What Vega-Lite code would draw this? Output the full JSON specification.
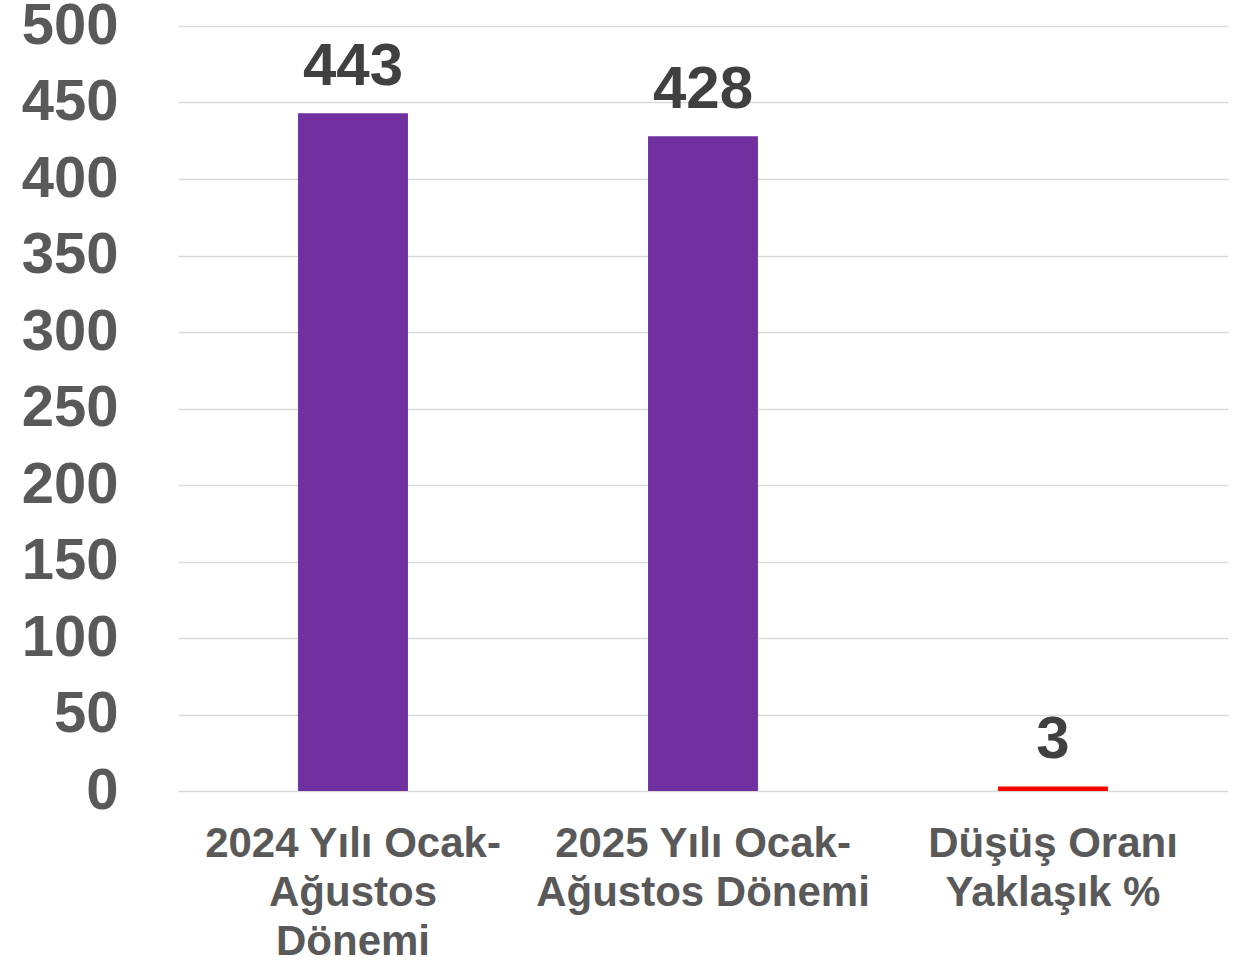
{
  "$schema": "https://vega.github.io/schema/vega-lite/v6.json",
  "width": 1050,
  "height": 765,
  "autosize": "none",
  "padding": {"left": 178, "top": 26, "right": 28, "bottom": 169},
  "background": "white",
  "config": {"view": {"stroke": null}, "font": "Liberation Sans"},
  "data": {
    "values": [
      {"donem": "2024 Yılı Ocak-Ağustos Dönemi", "deger": 443, "renk": "mor"},
      {"donem": "2025 Yılı Ocak-Ağustos Dönemi", "deger": 428, "renk": "mor"},
      {"donem": "Düşüş Oranı Yaklaşık %", "deger": 3, "renk": "kirmizi"}
    ]
  },
  "encoding": {
    "x": {
      "field": "donem",
      "type": "nominal",
      "sort": null,
      "scale": {"paddingInner": 0.686, "paddingOuter": 0.343},
      "axis": {
        "title": null,
        "labelAngle": 0,
        "domain": false,
        "ticks": false,
        "labelFont": "Liberation Sans",
        "labelFontWeight": "bold",
        "labelFontSize": 42,
        "labelColor": "#595959",
        "labelLineHeight": 49,
        "labelPadding": 32,
        "labelBaseline": "top",
        "labelLimit": 0,
        "labelExpr": "datum.value == '2024 Yılı Ocak-Ağustos Dönemi' ? ['2024 Yılı Ocak-', 'Ağustos', 'Dönemi'] : datum.value == '2025 Yılı Ocak-Ağustos Dönemi' ? ['2025 Yılı Ocak-', 'Ağustos Dönemi'] : ['Düşüş Oranı', 'Yaklaşık %']"
      }
    },
    "y": {
      "field": "deger",
      "type": "quantitative",
      "scale": {"domain": [0, 500], "nice": false},
      "axis": {
        "title": null,
        "values": [0, 50, 100, 150, 200, 250, 300, 350, 400, 450, 500],
        "domain": false,
        "ticks": false,
        "grid": true,
        "gridColor": "#d9d9d9",
        "gridWidth": 1.5,
        "labelFont": "Liberation Sans",
        "labelFontWeight": "bold",
        "labelFontSize": 58,
        "labelColor": "#595959",
        "labelPadding": 60
      }
    }
  },
  "layer": [
    {
      "mark": {"type": "bar"},
      "encoding": {
        "color": {
          "field": "renk",
          "type": "nominal",
          "scale": {"domain": ["mor", "kirmizi"], "range": ["#7030A0", "#FF0000"]},
          "legend": null
        }
      }
    },
    {
      "mark": {
        "type": "text",
        "baseline": "alphabetic",
        "dy": -28,
        "font": "Liberation Sans",
        "fontWeight": "bold",
        "fontSize": 60,
        "color": "#404040"
      },
      "encoding": {"text": {"field": "deger", "type": "quantitative"}}
    }
  ]
}
